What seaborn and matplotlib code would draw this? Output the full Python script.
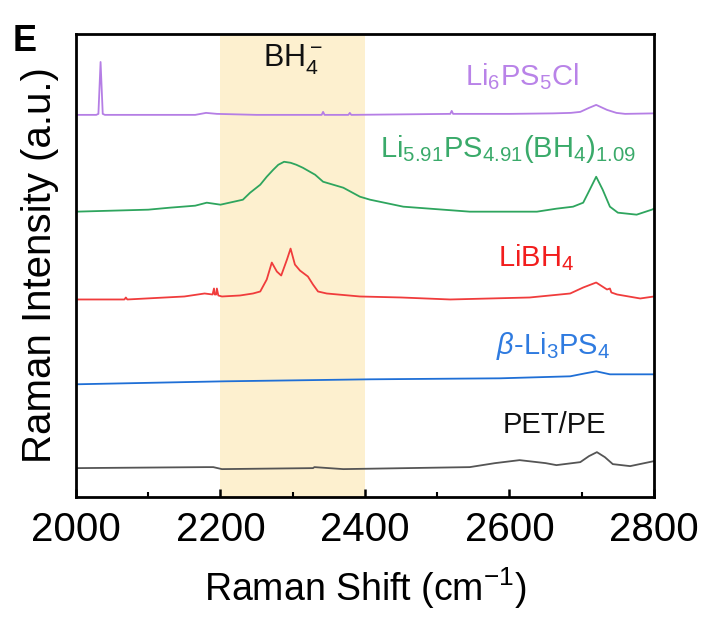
import matplotlib
matplotlib.use("Agg")
import matplotlib.pyplot as plt
import seaborn as sb
from matplotlib.ticker import MultipleLocator

sb.set_style("ticks")
plt.rcParams['font.family'] = ['Liberation Sans', 'DejaVu Sans']
plt.rcParams['mathtext.fontset'] = 'custom'
plt.rcParams['mathtext.rm'] = 'Liberation Sans'
plt.rcParams['mathtext.it'] = 'Liberation Sans:italic'
plt.rcParams['mathtext.bf'] = 'Liberation Sans:bold'
plt.rcParams['text.color'] = 'black'
plt.rcParams['axes.labelcolor'] = 'black'
plt.rcParams['xtick.color'] = 'black'

# spectra, stacked with offsets (a.u.)
li6_x = [2000, 2028, 2031, 2034, 2037, 2040, 2150, 2165, 2180, 2195, 2250, 2340, 2342, 2344,
         2377, 2379, 2381, 2450, 2518, 2520, 2522, 2600, 2660, 2685, 2698, 2710, 2720, 2735,
         2748, 2760, 2800]
li6_y = [383, 383, 384, 436, 384, 383, 383, 383, 385, 384, 383, 383, 386, 383,
         383, 385, 383, 383.5, 384, 387, 384, 384, 384.5, 385, 386, 390, 393, 388,
         385, 384, 384.5]

green_x = [2000, 2050, 2100, 2130, 2165, 2181, 2200, 2231, 2241, 2255, 2264, 2273, 2280, 2288,
           2297, 2305, 2314, 2331, 2342, 2370, 2393, 2407, 2453, 2545, 2638, 2665, 2688, 2702,
           2709, 2720, 2729, 2739, 2750, 2776, 2797, 2800]
green_y = [286, 287, 288, 290, 292, 295, 293, 298, 305, 313, 321, 328, 333, 336,
           335, 333, 330, 323, 316, 310, 301, 298, 291, 286, 286, 289, 291, 295,
           305, 321, 308, 291, 285, 283, 288, 289]

red_x = [2000, 2067, 2069, 2071, 2150, 2178, 2189, 2191, 2192, 2194, 2195, 2197, 2202, 2227,
         2245, 2255, 2264, 2271, 2278, 2284, 2292, 2297, 2303, 2310, 2321, 2328, 2335, 2347,
         2393, 2450, 2518, 2628, 2684, 2702, 2720, 2735, 2739, 2741, 2749, 2781, 2800]
red_y = [198, 198, 200, 198, 201, 204, 203, 209, 203, 203, 209, 202, 201, 202,
         204, 206, 218, 235, 226, 222, 238, 249, 233, 227, 221, 213, 206, 204,
         201, 200, 198, 200, 204, 210, 215, 208, 209, 205, 203, 199, 201]

blue_x = [2000, 2206, 2407, 2587, 2684, 2705, 2720, 2739, 2760, 2800]
blue_y = [113, 116, 118, 119, 121, 124, 126, 123, 123, 123]

pet_x = [2000, 2180, 2190, 2202, 2328, 2330, 2370, 2545, 2580, 2614, 2650, 2665, 2698, 2710,
         2721, 2732, 2743, 2767, 2800]
pet_y = [29, 30, 30, 28, 29, 30, 28, 30, 34, 37, 34, 32, 35, 41,
         45, 40, 33, 31, 36]

series = [
    (li6_x, li6_y, '#b57ee5', 'Li$_6$PS$_5$Cl', '#b983e8', 2617, 413),
    (green_x, green_y, '#2ea55e', 'Li$_{5.91}$PS$_{4.91}$(BH$_4$)$_{1.09}$', '#3aaa6a', 2598, 341),
    (red_x, red_y, '#f03c3c', 'LiBH$_4$', '#f21d1d', 2637, 231),
    (blue_x, blue_y, '#1f6fd6', r'$\mathit{\beta}$-Li$_3$PS$_4$', '#2f7be0', 2660, 143),
    (pet_x, pet_y, '#555555', 'PET/PE', '#111111', 2662, 64),
]

fig = plt.figure(figsize=(7.09, 6.19), dpi=100)
ax = fig.add_axes([0.1072, 0.197, 0.8152, 0.748])

ax.axvspan(2200, 2400, color='#fdf0cf', zorder=0, lw=0)

for xs, ys, col, label, tcol, tx, ty in series:
    sb.lineplot(x=xs, y=ys, color=col, lw=1.3, estimator=None, ax=ax)
    ax.text(tx, ty, label, color=tcol, fontsize=21, ha='center', va='baseline')

ax.text(2300, 431, 'BH$_4^-$', color='#111111', fontsize=22, ha='center', va='baseline')

ax.set_xlim(2000, 2800)
ax.set_ylim(0, 464)
ax.set_yticks([])
ax.xaxis.set_major_locator(MultipleLocator(200))
ax.xaxis.set_minor_locator(MultipleLocator(100))
ax.tick_params(axis='x', which='major', direction='in', length=6, width=1.8, labelsize=29, pad=10)
ax.tick_params(axis='x', which='minor', direction='in', length=3.5, width=1.5)
for sp in ax.spines.values():
    sp.set_visible(True)
    sp.set_linewidth(2.0)
    sp.set_color('black')

ax.set_xlabel('Raman Shift (cm$^{-1}$)', fontsize=27, labelpad=12)
ax.set_ylabel('Raman Intensity (a.u.)', fontsize=29, labelpad=12)
fig.text(0.018, 0.962, 'E', fontsize=26, fontweight='bold', va='top', ha='left')

fig.savefig('out.png', dpi=100)
